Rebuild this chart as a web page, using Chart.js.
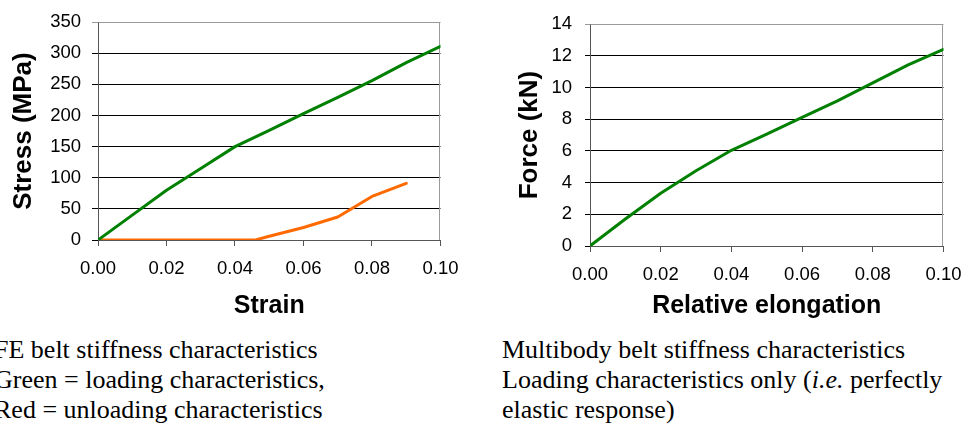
<!DOCTYPE html>
<html>
<head>
<meta charset="utf-8">
<script src="https://cdn.jsdelivr.net/npm/chart.js@4/dist/chart.umd.min.js"></script>
<style>
  html, body { margin: 0; padding: 0; background: #fff; overflow: hidden; }
  body { width: 973px; height: 427px; position: relative; }
  canvas { position: absolute; top: 0; }
  #c1 { left: 0; }
  #c2 { left: 490px; }
  .cap { position: absolute; top: 335px; font-family: "Liberation Serif", "Times New Roman", serif;
         font-size: 26px; line-height: 30px; color: #000; white-space: nowrap; }
  #cap1 { left: -6px; }
  #cap2 { left: 502px; }
</style>
</head>
<body>
<canvas id="c1" width="470" height="330"></canvas>
<canvas id="c2" width="483" height="330"></canvas>
<div class="cap" id="cap1">FE belt stiffness characteristics<br>Green = loading characteristics,<br>Red = unloading characteristics</div>
<div class="cap" id="cap2">Multibody belt stiffness characteristics<br>Loading characteristics only (<i>i.e.</i> perfectly<br>elastic response)</div>
<script>
// ---- data ----
const strain = [0, 0.01, 0.02, 0.03, 0.04, 0.05, 0.06, 0.07, 0.08, 0.09, 0.10];
const loadingStress = [0, 40, 80, 115, 150, 176, 203, 229, 256, 285, 311];
const unloadStrain = [0, 0.01, 0.02, 0.03, 0.04, 0.046, 0.05, 0.06, 0.07, 0.08, 0.09];
const unloadStress = [0, 0, 0, 0, 0, 0, 6, 20, 37, 70, 91];
const elongation = [0, 0.01, 0.02, 0.03, 0.04, 0.05, 0.06, 0.07, 0.08, 0.09, 0.10];
const force = [0, 1.7, 3.33, 4.75, 6.04, 7.06, 8.12, 9.16, 10.29, 11.43, 12.41];
const xTicks = [0, 0.02, 0.04, 0.06, 0.08, 0.10];
const stressTicks = [0, 50, 100, 150, 200, 250, 300, 350];
const forceTicks = [0, 2, 4, 6, 8, 10, 12, 14];

const GREEN = '#008000';
const ORANGE = '#FF6A00';
const SANS = '"Liberation Sans", Arial, Helvetica, sans-serif';

function pts(xs, ys) { return xs.map((x, i) => ({ x: x, y: ys[i] })); }

const frame = {
  id: 'frame',
  beforeDatasetsDraw(chart) {
    const a = chart.chartArea, c = chart.ctx;
    c.save();
    c.strokeStyle = '#9a9a9a';
    c.lineWidth = 1;
    c.beginPath();
    c.moveTo(Math.round(a.left) + 0.5, Math.round(a.top) + 0.5);
    c.lineTo(Math.round(a.right) - 0.5, Math.round(a.top) + 0.5);
    c.lineTo(Math.round(a.right) - 0.5, Math.round(a.bottom));
    c.stroke();
    c.restore();
  }
};

function makeChart(id, cfg) {
  const maxY = cfg.yTicks[cfg.yTicks.length - 1];
  return new Chart(document.getElementById(id), {
    type: 'scatter',
    data: { datasets: cfg.datasets },
    plugins: [frame],
    options: {
      responsive: false,
      animation: false,
      devicePixelRatio: 1,
      layout: { padding: { left: 0, top: 17, right: cfg.padRight, bottom: 9 } },
      plugins: { legend: { display: false }, tooltip: { enabled: false } },
      elements: { point: { radius: 0 }, line: { tension: 0, borderWidth: 3, borderCapStyle: 'round', borderJoinStyle: 'round' } },
      scales: {
        x: {
          type: 'linear', min: 0, max: 0.1,
          afterBuildTicks: s => { s.ticks = xTicks.map(v => ({ value: v })); },
          afterFit: s => { s.height = cfg.xHeight; },
          ticks: { color: '#000', font: { family: SANS, size: 18.5 }, padding: 11.5,
                   callback: v => Number(v).toFixed(2), maxRotation: 0 },
          grid: { drawOnChartArea: false, drawTicks: true, tickLength: 6, color: '#555' },
          border: { color: '#555', width: 1 },
          title: { display: true, text: cfg.xTitle, color: '#000',
                   font: { family: SANS, size: 25, weight: 'bold' }, padding: { top: 0, bottom: 0 } }
        },
        y: {
          type: 'linear', min: 0, max: maxY,
          afterBuildTicks: s => { s.ticks = cfg.yTicks.map(v => ({ value: v })); },
          afterFit: s => { s.width = cfg.yWidth; },
          ticks: { color: '#000', font: { family: SANS, size: 18.5 }, padding: cfg.yPad },
          grid: { drawOnChartArea: true, drawTicks: true, tickLength: cfg.yTick,
                  color: ctx => (ctx.tick && ctx.tick.value === maxY) ? '#9a9a9a' : '#000',
                  lineWidth: 1 },
          border: { color: '#555', width: 1 },
          title: { display: true, text: cfg.yTitle, color: '#000',
                   font: { family: SANS, size: 26, weight: 'bold' }, padding: { top: cfg.yTitlePad, bottom: 0 } }
        }
      }
    }
  });
}

makeChart('c1', {
  datasets: [
    { data: pts(strain, loadingStress), showLine: true, borderColor: GREEN, backgroundColor: GREEN, fill: false },
    { data: pts(unloadStrain, unloadStress), showLine: true, borderColor: ORANGE, backgroundColor: ORANGE, fill: false }
  ],
  yTicks: stressTicks, xTitle: 'Strain', yTitle: 'Stress (MPa)',
  padRight: 27, xHeight: 81, yWidth: 98, yPad: 11, yTick: 6, yTitlePad: 8
});

makeChart('c2', {
  datasets: [
    { data: pts(elongation, force), showLine: true, borderColor: GREEN, backgroundColor: GREEN, fill: false }
  ],
  yTicks: forceTicks, xTitle: 'Relative elongation', yTitle: 'Force (kN)',
  padRight: 21, xHeight: 75, yWidth: 100, yPad: 13, yTick: 5, yTitlePad: 24
});
</script>
</body>
</html>
